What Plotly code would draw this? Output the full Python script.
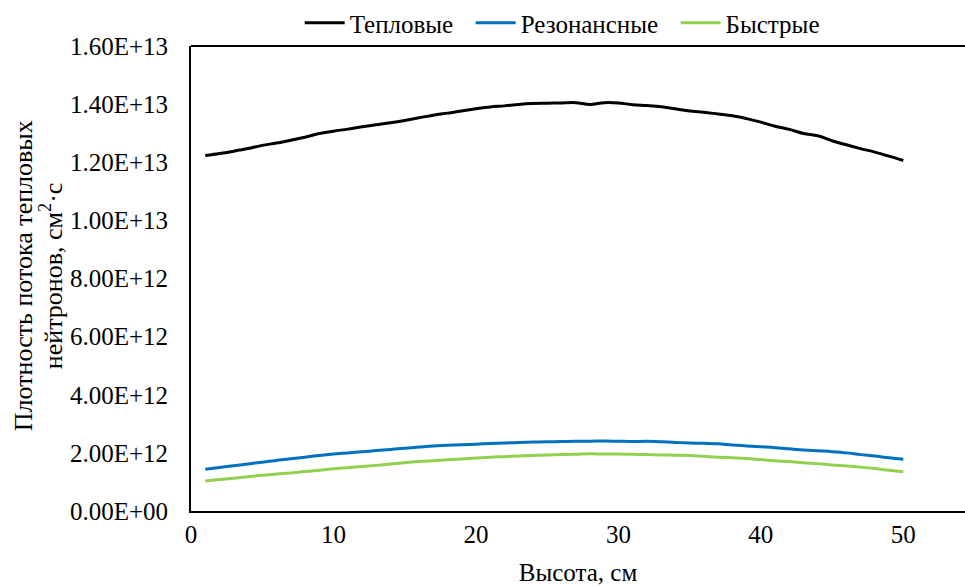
import plotly.graph_objects as go

height_cm = list(range(1, 51))

thermal_e12 = [12.23, 12.30, 12.38, 12.47, 12.58, 12.66, 12.76, 12.86, 12.99, 13.07,
               13.14, 13.22, 13.29, 13.36, 13.44, 13.53, 13.62, 13.69, 13.76, 13.84,
               13.90, 13.94, 13.99, 14.02, 14.03, 14.04, 14.05, 13.99, 14.05, 14.04,
               13.98, 13.95, 13.91, 13.84, 13.76, 13.72, 13.66, 13.60, 13.50, 13.38,
               13.24, 13.13, 12.99, 12.91, 12.74, 12.60, 12.47, 12.35, 12.21, 12.06]

resonance_e12 = [1.44, 1.50, 1.56, 1.62, 1.68, 1.74, 1.80, 1.85, 1.91, 1.96,
                 2.00, 2.04, 2.08, 2.12, 2.16, 2.20, 2.24, 2.26, 2.28, 2.30,
                 2.32, 2.34, 2.36, 2.37, 2.38, 2.39, 2.40, 2.40, 2.41, 2.40,
                 2.39, 2.40, 2.38, 2.36, 2.34, 2.33, 2.31, 2.27, 2.24, 2.21,
                 2.18, 2.14, 2.10, 2.07, 2.04, 2.00, 1.94, 1.89, 1.83, 1.78]

fast_e12 = [1.03, 1.08, 1.13, 1.18, 1.23, 1.27, 1.31, 1.36, 1.40, 1.45,
            1.49, 1.53, 1.57, 1.62, 1.66, 1.70, 1.73, 1.76, 1.79, 1.82,
            1.85, 1.87, 1.89, 1.91, 1.93, 1.94, 1.95, 1.97, 1.96, 1.96,
            1.95, 1.94, 1.93, 1.92, 1.91, 1.88, 1.85, 1.83, 1.81, 1.77,
            1.73, 1.70, 1.66, 1.63, 1.58, 1.55, 1.51, 1.46, 1.40, 1.35]

series_names = ["Тепловые", "Резонансные", "Быстрые"]
series_colors = ["#000000", "#0070C0", "#92D050"]

y_tick_vals = [0, 2e12, 4e12, 6e12, 8e12, 1e13, 1.2e13, 1.4e13, 1.6e13]
y_tick_text = ["0.00E+00", "2.00E+12", "4.00E+12", "6.00E+12", "8.00E+12",
               "1.00E+13", "1.20E+13", "1.40E+13", "1.60E+13"]
x_tick_vals = [0, 10, 20, 30, 40, 50]

y_title_lines = ["Плотность потока тепловых", "нейтронов, см<sup>2</sup>·с"]

FONT = "Liberation Serif"
L, W = 191, 774  # plot-area left edge and width in px

fig = go.Figure()
for name, color, vals in zip(series_names, series_colors,
                             [thermal_e12, resonance_e12, fast_e12]):
    fig.add_trace(go.Scatter(
        x=height_cm, y=[v * 1e12 for v in vals], name=name + "  ", mode="lines",
        line=dict(color=color, width=3), line_shape="spline",
    ))

fig.add_shape(type="line", xref="paper", yref="paper", x0=0, x1=1, y0=1, y1=1,
              line=dict(color="black", width=2))

for px, txt in zip([23, 51], y_title_lines):
    fig.add_annotation(text=txt, xref="paper", yref="paper",
                       x=(px - L) / W, y=0.505, xanchor="center", yanchor="middle",
                       textangle=-90, showarrow=False,
                       font=dict(family=FONT, size=26, color="black"))

fig.update_layout(
    width=965, height=586,
    margin=dict(l=L, r=0, t=44, b=75),
    paper_bgcolor="white", plot_bgcolor="white",
    font=dict(family=FONT, size=25, color="black"),
    showlegend=True,
    legend=dict(orientation="h", x=0.488, xanchor="center", y=1.0, yanchor="bottom",
                font=dict(family=FONT, size=25), itemwidth=40, tracegroupgap=0,
                bgcolor="rgba(0,0,0,0)"),
    xaxis=dict(range=[0, 54.33], tickvals=x_tick_vals, showgrid=False, zeroline=False,
               showline=True, linecolor="black", linewidth=2,
               ticks="", tickfont=dict(family=FONT, size=25),
               title=dict(text="Высота, см", font=dict(family=FONT, size=25), standoff=16)),
    yaxis=dict(range=[0, 1.6e13], tickvals=y_tick_vals, ticktext=y_tick_text,
               showgrid=False, zeroline=False, showline=True, linecolor="black",
               linewidth=2, ticks="", ticklabelstandoff=16,
               tickfont=dict(family=FONT, size=25)),
)

fig.write_html("out.html")
